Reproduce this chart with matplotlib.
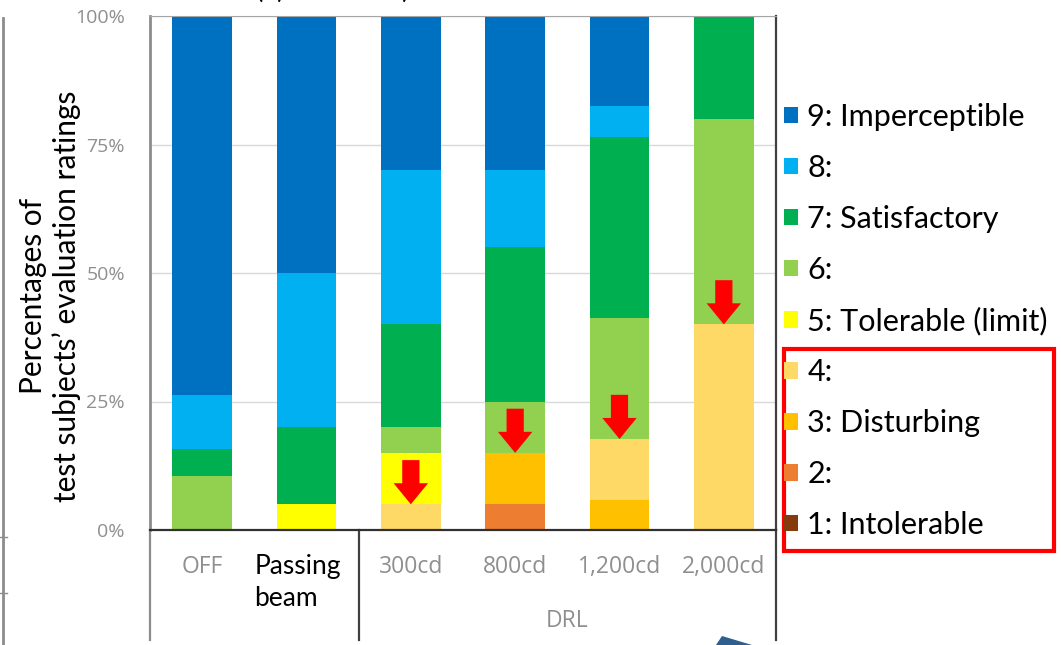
import matplotlib.pyplot as plt
import numpy as np
from matplotlib.patches import Patch, Rectangle, Polygon, FancyArrow
from matplotlib.lines import Line2D
from matplotlib.transforms import blended_transform_factory, ScaledTranslation

categories = ['OFF', 'Passing\nbeam', '300cd', '800cd', '1,200cd', '2,000cd']
group_label = 'DRL'
rating_labels = ['9: Imperceptible', '8:', '7: Satisfactory', '6:', '5: Tolerable (limit)',
                 '4:', '3: Disturbing', '2:', '1: Intolerable']
# percentage of subjects per rating, one value per category
r9 = [73.7, 50, 30, 30, 17.6, 0]
r8 = [10.5, 30, 30, 15, 5.9, 0]
r7 = [5.3, 15, 20, 30, 35.3, 20]
r6 = [10.5, 0, 5, 10, 23.5, 40]
r5 = [0, 5, 10, 0, 0, 0]
r4 = [0, 0, 5, 0, 11.8, 40]
r3 = [0, 0, 0, 10, 5.9, 0]
r2 = [0, 0, 0, 5, 0, 0]
r1 = [0, 0, 0, 0, 0, 0]
colors = ['#0070C0', '#00B0F0', '#00B050', '#92D050', '#FFFF00',
          '#FFD966', '#FFC000', '#ED7D31', '#843C0C']

W, H = 1061, 645
fig = plt.figure(figsize=(W / 100, H / 100), dpi=100)
ax = fig.add_axes([150 / W, 1 - 530 / H, 626 / W, 514 / H])

series = [r9, r8, r7, r6, r5, r4, r3, r2, r1]
x = np.arange(len(categories))
bottom = np.zeros(len(categories))
# stack from rating 1 up to rating 9
for vals, col in zip(series[::-1], colors[::-1]):
    ax.bar(x, vals, width=0.57, bottom=bottom, color=col, zorder=2)
    bottom += np.array(vals)

ax.set_xlim(-0.5, 5.5)
ax.set_ylim(0, 100)

# red arrows pointing at the top of the "disturbing or worse" part of DRL bars
low = np.array(r1) + np.array(r2) + np.array(r3) + np.array(r4)
for i in range(2, 6):
    ax.add_patch(FancyArrow(x[i], low[i] + 8.6, 0, -8.6, width=0.165, head_width=0.33,
                            head_length=4.1, length_includes_head=True,
                            color='#FF0000', lw=0, zorder=3))

# axes styling
gray_txt = '#8f8f8f'
ax.set_yticks([0, 25, 50, 75, 100])
ax.set_yticklabels(['0%', '25%', '50%', '75%', '100%'], color=gray_txt,
                   fontsize=14, family='Open Sans')
ax.tick_params(axis='y', length=0, pad=18)
ax.yaxis.grid(True, color='#d9d9d9', lw=1, zorder=0)
ax.set_axisbelow(True)
ax.spines['top'].set_color('#a6a6a6')
ax.spines['left'].set_color('#8c8c8c')
ax.spines['left'].set_linewidth(2)
ax.spines['right'].set_color('#404040')
ax.spines['right'].set_linewidth(1.6)
ax.spines['bottom'].set_color('#303030')
ax.spines['bottom'].set_linewidth(1.6)

ax.set_xticks(x)
ax.set_xticklabels(categories, color=gray_txt, fontsize=16.5, family='Open Sans')
ax.tick_params(axis='x', length=0, pad=18)
pb = ax.get_xticklabels()[1]
pb.set_color('black')
pb.set_fontfamily('Lato')
pb.set_fontsize(19)
pb.set_linespacing(1.35)
pb.set_multialignment('left')
pb.set_transform(pb.get_transform() + ScaledTranslation(-9 / 100, 1 / 100, fig.dpi_scale_trans))

# category table lines below the axis
trans = blended_transform_factory(ax.transData, ax.transAxes)
for xv, c in [(-0.5, '#8c8c8c'), (1.5, '#404040'), (5.5, '#404040')]:
    ax.add_line(Line2D([xv, xv], [0, -0.214], transform=trans, color=c, lw=1.6, clip_on=False))
ax.text(3.5, -0.178, group_label, transform=trans, ha='center', va='center',
        color=gray_txt, fontsize=16.5, family='Open Sans')

ax.set_ylabel('Percentages of\ntest subjects\u2019 evaluation ratings', fontsize=21.5,
              family='Lato', linespacing=1.22)
ax.yaxis.set_label_coords(-(150 - 81) / 626, (530 - 296) / 514)

# legend
handles = [Patch(facecolor=c, edgecolor='none') for c in colors]
fig.legend(handles, rating_labels, loc='center left',
           bbox_to_anchor=(784 / W, 1 - 321 / H), frameon=False,
           prop={'family': 'Lato', 'size': 22}, handlelength=0.46, handleheight=0.46,
           handletextpad=0.3, labelspacing=0.75, borderpad=0, borderaxespad=0)

# red box around the lower ratings
fig.patches.append(Rectangle((784 / W, 1 - 551 / H), 270 / W, 202 / H,
                             transform=fig.transFigure, fill=False,
                             edgecolor='#FF0000', lw=3))

# fragments of the neighbouring chart in the screenshot
fig.add_artist(Line2D([3 / W, 3 / W], [0, 1 - 18 / H], color='#8c8c8c', lw=2))
for yy in [537, 593]:
    fig.add_artist(Line2D([0, 7 / W], [1 - yy / H, 1 - yy / H], color='#8c8c8c', lw=1))
fig.text(256 / W, 1 + 2 / H, '(a) Overcast)', fontsize=20, family='Lato',
         ha='left', va='baseline')
fig.patches.append(Polygon([(716 / W, 0), (722 / W, 1 - 636 / H), (752 / W, 0)],
                           closed=True, transform=fig.transFigure,
                           facecolor='#2F5F8F', edgecolor='none'))

fig.savefig('out.png', dpi=100)
